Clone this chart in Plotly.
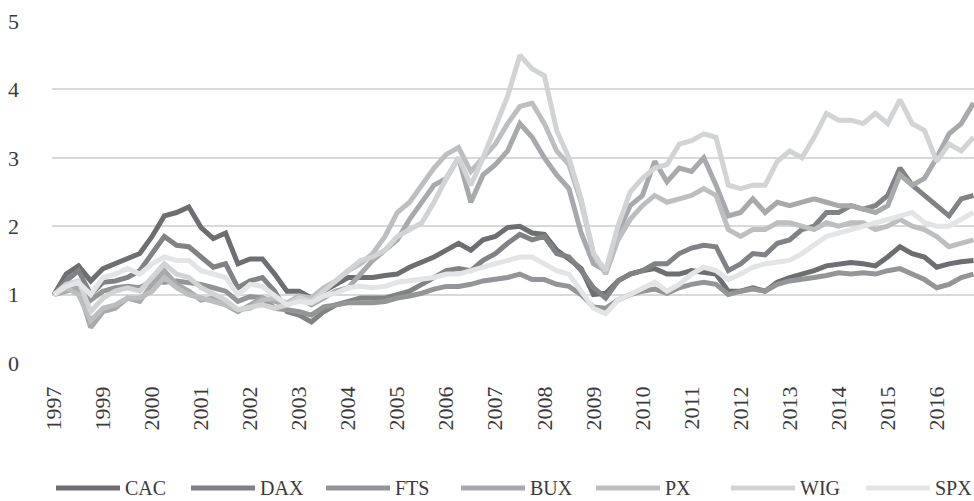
import plotly.graph_objects as go

# x positions: quarter-year steps (in units of the labelled tick intervals)
steps = [i * 0.25 for i in range(76)]
tick_pos = list(range(19))
tick_labels = ["1997", "1999", "2000", "2001", "2002", "2003", "2004", "2005", "2006", "2007",
               "2008", "2009", "2010", "2011", "2012", "2013", "2014", "2015", "2016"]

CAC = [1.0, 1.3, 1.42, 1.2, 1.38, 1.45, 1.52, 1.6, 1.85, 2.15, 2.2, 2.28, 1.98, 1.82, 1.9, 1.45,
       1.52, 1.52, 1.3, 1.05, 1.05, 0.95, 1.05, 1.15, 1.25, 1.25, 1.25, 1.28, 1.3, 1.4, 1.48, 1.55,
       1.65, 1.75, 1.65, 1.8, 1.85, 1.98, 2.0, 1.9, 1.88, 1.65, 1.52, 1.38, 1.0, 1.02, 1.2, 1.3,
       1.35, 1.38, 1.3, 1.3, 1.35, 1.32, 1.3, 1.05, 1.05, 1.1, 1.05, 1.18, 1.25, 1.3, 1.35, 1.42,
       1.45, 1.47, 1.45, 1.42, 1.55, 1.7, 1.6, 1.55, 1.4, 1.45, 1.48, 1.5]
DAX = [1.0, 1.2, 1.35, 1.0, 1.18, 1.2, 1.25, 1.35, 1.6, 1.85, 1.72, 1.7, 1.55, 1.4, 1.45, 1.1,
       1.2, 1.25, 1.05, 0.75, 0.7, 0.6, 0.75, 0.85, 0.9, 0.95, 0.95, 0.95, 1.0, 1.05, 1.15, 1.25,
       1.35, 1.38, 1.35, 1.5, 1.6, 1.75, 1.88, 1.8, 1.85, 1.6, 1.55, 1.35, 1.1, 0.95, 1.2, 1.3,
       1.35, 1.45, 1.45, 1.6, 1.68, 1.72, 1.7, 1.35, 1.45, 1.6, 1.58, 1.75, 1.8, 1.95, 2.0, 2.2,
       2.2, 2.3, 2.25, 2.3, 2.45, 2.85, 2.6, 2.45, 2.3, 2.15, 2.4, 2.45]
FTS = [1.0, 1.1, 1.15, 0.92, 1.05, 1.1, 1.12, 1.1, 1.2, 1.18, 1.2, 1.18, 1.15, 1.1, 1.05, 0.9,
       0.97, 0.95, 0.8, 0.78, 0.75, 0.7, 0.82, 0.85, 0.88, 0.88, 0.88, 0.9, 0.95, 0.98, 1.02, 1.08,
       1.12, 1.12, 1.15, 1.2, 1.22, 1.25, 1.3, 1.22, 1.22, 1.15, 1.12, 1.0, 0.82, 0.8, 0.92, 1.0,
       1.05, 1.08, 1.02, 1.1, 1.15, 1.18, 1.15, 1.0, 1.05, 1.08, 1.05, 1.15, 1.2, 1.22, 1.25, 1.28,
       1.32, 1.3, 1.32, 1.3, 1.35, 1.38, 1.3, 1.22, 1.1, 1.15, 1.25, 1.3]
BUX = [1.0, 1.05, 1.1, 0.52, 0.75, 0.8, 0.95, 0.9, 1.15, 1.35, 1.15, 1.05, 0.92, 0.95, 0.85, 0.75,
       0.85, 0.95, 0.9, 0.85, 0.95, 0.85, 0.95, 1.05, 1.1, 1.3, 1.5, 1.65, 1.8, 2.1, 2.35, 2.6,
       2.7, 3.0, 2.35, 2.75, 2.9, 3.1, 3.5, 3.3, 3.0, 2.75, 2.55, 1.9, 1.45, 1.35, 1.9, 2.3,
       2.45, 2.95, 2.65, 2.85, 2.8, 3.0, 2.6, 2.15, 2.2, 2.4, 2.2, 2.35, 2.3, 2.35, 2.4, 2.35,
       2.3, 2.3, 2.25, 2.2, 2.3, 2.75, 2.6, 2.7, 3.0, 3.35, 3.5, 3.8]
PX = [1.0, 1.1, 1.0, 0.62, 0.8, 0.85, 0.95, 0.95, 1.05, 1.25, 1.1, 1.0, 0.95, 0.9, 0.85, 0.78,
      0.8, 0.92, 0.95, 0.88, 0.98, 0.95, 1.1, 1.2, 1.35, 1.45, 1.6, 1.85, 2.2, 2.35, 2.6, 2.85,
      3.05, 3.15, 2.8, 3.0, 3.2, 3.5, 3.75, 3.8, 3.5, 3.1, 2.9, 2.35, 1.6, 1.3, 1.8, 2.1,
      2.3, 2.45, 2.35, 2.4, 2.45, 2.55, 2.45, 1.95, 1.85, 1.95, 1.95, 2.05, 2.05, 2.0, 1.95, 2.05,
      2.0, 2.05, 2.05, 1.95, 2.0, 2.1, 2.0, 1.95, 1.85, 1.7, 1.75, 1.8]
WIG = [1.0, 1.15, 1.2, 0.75, 0.95, 1.05, 1.1, 1.05, 1.25, 1.45, 1.3, 1.25, 1.1, 1.0, 0.92, 0.78,
       0.82, 0.85, 0.8, 0.85, 0.95, 0.9, 1.05, 1.2, 1.35, 1.5, 1.55, 1.65, 1.85, 1.95, 2.05, 2.35,
       2.7, 3.0, 2.6, 3.0, 3.45, 3.9, 4.5, 4.3, 4.2, 3.4, 3.0, 2.4, 1.6, 1.35, 2.0, 2.5,
       2.7, 2.85, 2.9, 3.2, 3.25, 3.35, 3.3, 2.6, 2.55, 2.6, 2.6, 2.95, 3.1, 3.0, 3.3, 3.65,
       3.55, 3.55, 3.5, 3.65, 3.5, 3.85, 3.5, 3.4, 2.95, 3.2, 3.1, 3.3]
SPX = [1.0, 1.12, 1.18, 1.0, 1.25, 1.3, 1.38, 1.3, 1.45, 1.55, 1.5, 1.5, 1.35, 1.3, 1.25, 1.0,
       1.15, 1.12, 0.98, 0.85, 0.9, 0.88, 0.98, 1.02, 1.1, 1.12, 1.1, 1.12, 1.18, 1.2, 1.22, 1.25,
       1.3, 1.3, 1.35, 1.4, 1.45, 1.5, 1.55, 1.55, 1.45, 1.35, 1.3, 1.05, 0.8, 0.72, 0.92, 1.0,
       1.1, 1.18, 1.05, 1.15, 1.3, 1.4, 1.35, 1.22, 1.3, 1.4, 1.45, 1.48, 1.5, 1.6, 1.72, 1.85,
       1.9, 1.95, 2.0, 2.05, 2.1, 2.15, 2.2, 2.05, 2.0, 2.0, 2.1, 2.2]

names = ["CAC", "DAX", "FTS", "BUX", "PX", "WIG", "SPX"]
values = [CAC, DAX, FTS, BUX, PX, WIG, SPX]
colors = ["#6d6e71", "#808285", "#939598", "#a7a9ac", "#bcbec0", "#d1d3d4", "#e3e4e5"]

FONT = "Liberation Serif, Times New Roman, serif"
TXT = "#3a3a3a"
W, H = 974, 501
PL, PT, PW, PH = 52, 21, 922, 342   # plot area in pixels

fig = go.Figure()
for name, vals, col in zip(names, values, colors):
    fig.add_trace(go.Scatter(x=steps, y=vals, mode="lines", name=name, showlegend=False,
                             line=dict(color=col, width=5)))

# legend drawn as swatches + text below the plot
ly = (PT + PH - 488) / PH
for i, (name, col) in enumerate(zip(names, colors)):
    x0 = 56 + 135 * i
    fig.add_shape(type="line", xref="paper", yref="paper",
                  x0=(x0 - PL) / PW, x1=(x0 + 64 - PL) / PW, y0=ly, y1=ly,
                  line=dict(color=col, width=5))
    fig.add_annotation(text=name, xref="paper", yref="paper",
                       x=(x0 + 67 - PL) / PW, y=ly,
                       xanchor="left", yanchor="middle", showarrow=False,
                       font=dict(family=FONT, size=20, color=TXT))

fig.update_layout(
    width=W, height=H,
    margin=dict(l=PL, r=W - PL - PW, t=PT, b=H - PT - PH, autoexpand=False),
    paper_bgcolor="white", plot_bgcolor="white",
    font=dict(family=FONT, size=22, color=TXT),
    showlegend=False,
    xaxis=dict(range=[-0.04, 18.76], tickmode="array", tickvals=tick_pos, ticktext=tick_labels,
               tickangle=-90, showgrid=False, zeroline=False, showline=False, ticks="",
               ticklabelstandoff=18, tickfont=dict(family=FONT, size=22, color=TXT)),
    yaxis=dict(range=[0, 5], tickvals=[0, 1, 2, 3, 4, 5], showgrid=True, gridcolor="#d9d9d9",
               gridwidth=1.5, zeroline=False, showline=False, ticks="", ticklabelstandoff=32,
               tickfont=dict(family=FONT, size=22, color=TXT)),
)

fig.write_html("out.html", config={"displayModeBar": False},
               post_script="document.body.style.margin='0';document.body.style.padding='0';")
